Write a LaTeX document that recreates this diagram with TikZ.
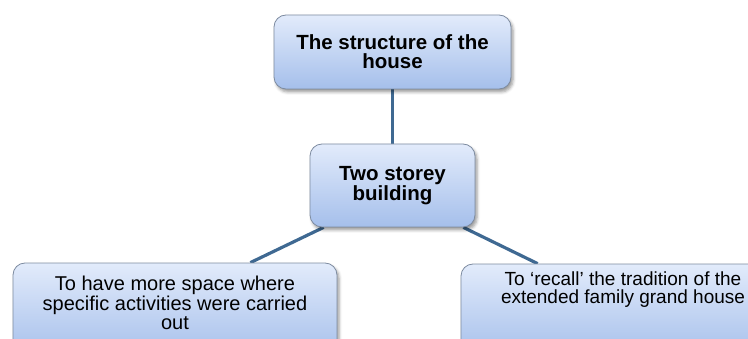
\documentclass[tikz,border=0pt]{standalone}
\usepackage{fontspec}
\setmainfont{Liberation Sans}
\usetikzlibrary{shadows.blur}
\definecolor{boxtop}{HTML}{E2EBFB}
\definecolor{boxbot}{HTML}{A5BFEB}
\definecolor{boxline}{HTML}{7D8BA0}
\definecolor{linkblue}{HTML}{3F6992}
\pgfdeclarelayer{back}
\pgfsetlayers{back,main}
\begin{document}
\begin{tikzpicture}[x=1pt,y=1pt,
  box/.style={draw=boxline, line width=0.8pt, rounded corners=12pt,
    top color=boxtop, bottom color=boxbot, inner sep=0pt,
    blur shadow={shadow xshift=2pt, shadow yshift=-3pt,
      shadow blur radius=3pt, shadow opacity=40}},
  headtext/.style={align=center, font=\bfseries\fontsize{20.5}{19}\selectfont},
  bodytext/.style={align=center, inner sep=0pt},
  link/.style={draw=linkblue, line width=3.2pt}]
\useasboundingbox (0,0) rectangle (748,338);
\clip (0,0) rectangle (748,338);

% upper two boxes
\node[box, headtext, minimum width=237pt, minimum height=74pt] (top) at (392.5,286)
  {The structure of the\\house};
\node[box, headtext, minimum width=165pt, minimum height=83pt,
  font=\bfseries\fontsize{20.5}{18}\selectfont] (mid) at (392.5,152.5)
  {Two storey\\building};

% lower boxes run past the bottom edge
\node[box, minimum width=324pt, minimum height=95pt] (left) at (175,27.5) {};
\node[bodytext, font=\fontsize{20}{19.5}\selectfont] (lefttext) at (175,35)
  {To have more space where\\specific activities were carried\\out};
\node[box, minimum width=324pt, minimum height=94pt] (right) at (623,27) {};
\node[bodytext, font=\fontsize{19}{18}\selectfont] (righttext) at (623,48)
  {To ‘recall’ the tradition of the\\extended family grand house};

% connectors sit behind the boxes
\begin{pgfonlayer}{back}
  \draw[link] (top.south) -- (mid.north);
  \draw[link] ([xshift=14pt]mid.south west) -- ([xshift=-87pt]left.north east);
  \draw[link] ([xshift=-12pt]mid.south east) -- ([xshift=77pt]right.north west);
\end{pgfonlayer}
\end{tikzpicture}
\end{document}
